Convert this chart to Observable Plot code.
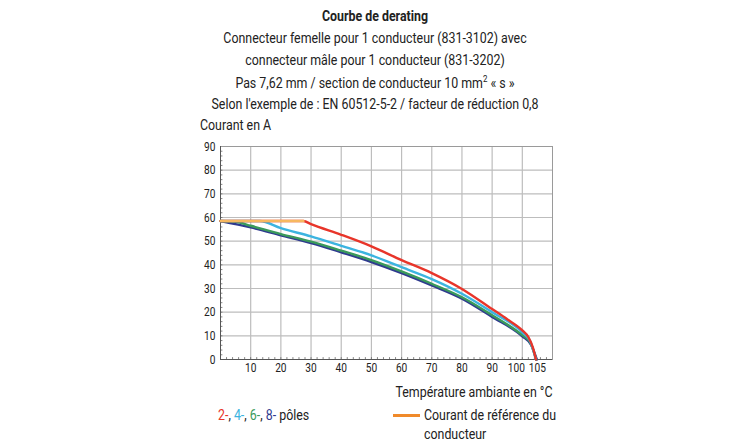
<!DOCTYPE html>
<html><head><meta charset="utf-8">
<script src="https://cdn.jsdelivr.net/npm/d3@7"></script>
<script src="https://cdn.jsdelivr.net/npm/@observablehq/plot@0.6"></script>
<style>
body{margin:0;background:#fff;font-family:Roboto,"Liberation Sans",sans-serif;color:#222}
#wrap{position:relative;width:729px;height:441px;overflow:hidden}
.a{position:absolute;font-size:14px;line-height:20px;white-space:nowrap;transform-origin:left center}
.c{left:175px;width:400px;text-align:center;transform-origin:center center}
.r{transform-origin:right center}
#chart{position:absolute;left:0;top:130px}
</style></head><body>
<div id="wrap">
<div class="a c" style="top:6px;font-weight:bold">Courbe de derating</div>
<div class="a c" style="top:28px">Connecteur femelle pour 1 conducteur (831-3102) avec</div>
<div class="a c" style="top:50px">connecteur mâle pour 1 conducteur (831-3202)</div>
<div class="a c" style="top:73px">Pas 7,62 mm / section de conducteur 10 mm<sup style="font-size:9px;line-height:0">2</sup> « s »</div>
<div class="a c" style="top:94px"><span id="ref">Selon l'exemple de : EN 60512-5-2 / facteur de réduction 0,8</span></div>
<div class="a" style="top:115px;left:200px">Courant en A</div>
<div id="chart"></div>
<div class="a r" style="top:382px;right:176px">Température ambiante en °C</div>
<div class="a" style="top:405px;left:218px"><span style="color:#e8352a">2-</span>, <span style="color:#3cb4e0">4-</span>, <span style="color:#3a9a5b">6-</span>, <span style="color:#2f3a8f">8-</span> pôles</div>
<div style="position:absolute;left:393px;top:414px;width:27px;height:2.5px;background:#f08a2a"></div>
<div class="a" style="top:405px;left:424px">Courant de référence du</div>
<div class="a" style="top:424px;left:424px">conducteur</div>
</div>
<script>
const xTicks = [10,20,30,40,50,60,70,80,90,105];
const xTickShifted = [100];
const yTicks = [0,10,20,30,40,50,60,70,80,90];
const xGrid = [10,20,30,40,50,60,70,80,90,100];
const yGrid = [10,20,30,40,50,60,70,80];
const xMinor = d3.range(0,110,2);
const yMinor = d3.range(0,90,2);

const pole2 = [[0,58.5],[27.5,58.5],[30,57.2],[40,52.7],[50,47.8],[60,42],[70,36.5],[80,29.8],[90,21.3],[95,17],[100,12.3],[102,9.5],[103.5,5],[104.5,0]];
const pole4 = [[0,58.5],[13,58.5],[20,55.5],[30,52],[40,48],[50,44],[60,39],[70,34],[80,27.8],[90,20],[100,11.5],[102.5,8],[104.5,0]];
const pole6 = [[0,58.5],[5,58.2],[10,56.5],[20,53],[30,49.8],[40,46],[50,42],[60,37.2],[70,32],[80,26.3],[90,18.7],[100,10.3],[102.5,7.5],[104.6,0]];
const pole8 = [[0,58.5],[10,55.8],[20,52.5],[30,49.2],[40,45.3],[50,41.2],[60,36.5],[70,31.3],[80,25.7],[90,18],[100,9.8],[103,6],[104.8,0]];
const reference = [[0,58.5],[27.5,58.5]];

const series = [
  {data: pole8, color: "#2f3a8f"},
  {data: pole6, color: "#3a9a5b"},
  {data: pole4, color: "#3cb4e0"},
  {data: pole2, color: "#e8352a"},
  {data: reference, color: "#f7b860"}
];

const chart = Plot.plot({
  width: 729, height: 270,
  marginLeft: 220, marginRight: 177, marginTop: 16, marginBottom: 41,
  style: {fontFamily: 'Roboto,"Liberation Sans",sans-serif', fontSize: "13px", color: "#222", background: "transparent"},
  x: {domain: [0,110]},
  y: {domain: [0,90]},
  marks: [
    Plot.gridX(xGrid, {stroke: "#bdbdbd", strokeOpacity: 1, strokeWidth: 1.2}),
    Plot.gridY(yGrid, {stroke: "#bdbdbd", strokeOpacity: 1, strokeWidth: 1.2}),
    Plot.frame({stroke: "#9a9a9a"}),
    Plot.ruleY(yMinor, {x1: 0, x2: 0.8, stroke: "#666", strokeWidth: 0.8}),
    Plot.ruleX(xMinor, {y1: 0, y2: 0.8, stroke: "#666", strokeWidth: 0.8}),
    Plot.ruleX([0], {stroke: "#555"}),
    Plot.ruleY([0], {stroke: "#555"}),
    Plot.axisX(xTicks, {tickSize: 0, tickPadding: 3, label: null, fontSize: 13}),
    Plot.axisX(xTickShifted, {tickSize: 0, tickPadding: 3, label: null, fontSize: 13, dx: -6}),
    Plot.axisY(yTicks, {tickSize: 0, tickPadding: 5, label: null, fontSize: 13}),
    ...series.map(s => Plot.line(s.data, {x: d => d[0], y: d => d[1], stroke: s.color, strokeWidth: 2.4, curve: "monotone-x"}))
  ]
});
document.getElementById("chart").appendChild(chart);

// narrow the text to match the condensed face of the original
const F = 327 / document.getElementById("ref").getBoundingClientRect().width;
document.querySelectorAll(".a").forEach(el => { el.style.transform = `scaleX(${F})`; });
chart.querySelectorAll("text").forEach(t => {
  const w = t.getComputedTextLength();
  t.setAttribute("textLength", (w * 0.78).toFixed(2));
  t.setAttribute("lengthAdjust", "spacingAndGlyphs");
});
</script>
</body></html>
